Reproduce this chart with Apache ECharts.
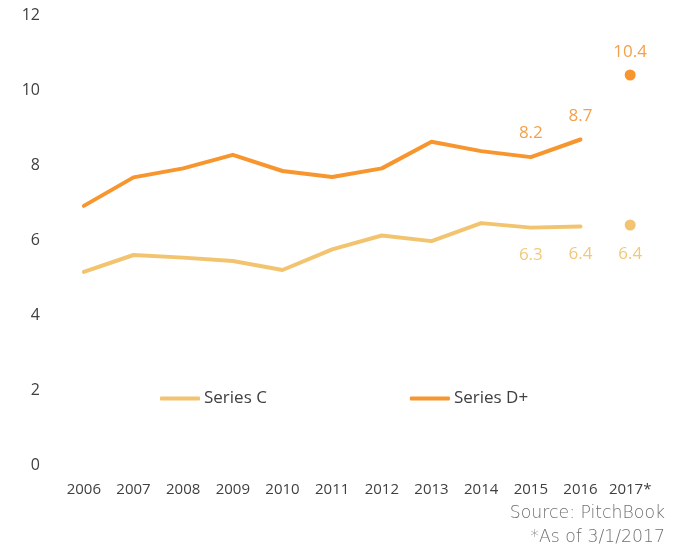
<!DOCTYPE html>
<html><head><meta charset="utf-8">
<script src="https://cdn.jsdelivr.net/npm/echarts@6/dist/echarts.min.js"></script>
<style>html,body{margin:0;padding:0;background:#fff}#c{width:684px;height:544px}</style>
</head><body><div id="c"></div>
<script>
var categories = ['2006','2007','2008','2009','2010','2011','2012','2013','2014','2015','2016','2017*'];
var seriesC = [5.15, 5.6, 5.53, 5.44, 5.2, 5.75, 6.12, 5.97, 6.45, 6.33, 6.36, null];
var seriesD = [6.91, 7.67, 7.91, 8.27, 7.84, 7.68, 7.91, 8.62, 8.37, 8.21, 8.68, null];
var pointC2017 = 6.4;
var pointD2017 = 10.4;
var labeledIdx = [9, 10];

var cColor = '#F2C46F', dColor = '#F7962F';
var cLabel = '#F2C87A', dLabel = '#F5A04A';
var font = 'Open Sans';

function fmt(p) { return p.value.toFixed(1); }
function build(arr, pos, col) {
  return arr.map(function (v, i) {
    if (labeledIdx.indexOf(i) >= 0) {
      return {value: v, label: {show: true, position: pos, distance: pos === 'top' ? 15 : 19, color: col, fontSize: 17, fontFamily: font, formatter: fmt}};
    }
    return v;
  });
}
function pointData(v, pos, col) {
  var d = categories.map(function () { return null; });
  d[categories.length - 1] = {value: v, label: {show: true, position: pos, distance: pos === 'top' ? 9 : 15, color: col, fontSize: 17, fontFamily: font, formatter: fmt}};
  return d;
}

var chart = echarts.init(document.getElementById('c'));
chart.setOption({
  animation: false,
  grid: {left: 59, right: 29, top: 15, bottom: 79},
  legend: {
    data: ['Series C', 'Series D+'], left: 155, top: 385, itemWidth: 40, itemHeight: 4, itemGap: 143,
    icon: 'roundRect',
    textStyle: {color: '#404040', fontSize: 17, fontFamily: font, padding: [0, 0, 0, -1]}
  },
  xAxis: {
    type: 'category', data: categories, boundaryGap: true,
    axisLine: {show: false}, axisTick: {show: false},
    axisLabel: {color: '#404040', fontSize: 15, fontFamily: font, margin: 17, interval: 0}
  },
  yAxis: {
    type: 'value', min: 0, max: 12, interval: 2,
    axisLine: {show: false}, axisTick: {show: false}, splitLine: {show: false},
    axisLabel: {color: '#404040', fontSize: 16, fontFamily: font, margin: 19, padding: [3, 0, 0, 0]}
  },
  series: [
    {name: 'Series C', type: 'line', data: build(seriesC, 'bottom', cLabel), showSymbol: true, symbol: 'circle', symbolSize: 0.1,
      lineStyle: {color: cColor, width: 4, cap: 'round', join: 'round'}, itemStyle: {color: cColor}},
    {name: 'Series D+', type: 'line', data: build(seriesD, 'top', dLabel), showSymbol: true, symbol: 'circle', symbolSize: 0.1,
      lineStyle: {color: dColor, width: 4, cap: 'round', join: 'round'}, itemStyle: {color: dColor}},
    {name: 'C2017', type: 'scatter', data: pointData(pointC2017, 'bottom', cLabel), symbolSize: 11, itemStyle: {color: cColor, opacity: 1}},
    {name: 'D2017', type: 'scatter', data: pointData(pointD2017, 'top', dLabel), symbolSize: 11, itemStyle: {color: dColor, opacity: 1}}
  ],
  graphic: [
    {type: 'text', right: 19, top: 505, style: {text: 'Source: PitchBook', fill: '#707070', fontSize: 17.3, fontFamily: 'DejaVu Sans', fontWeight: 300}},
    {type: 'text', right: 19, top: 529, style: {text: '*As of 3/1/2017', fill: '#707070', fontSize: 17.3, fontFamily: 'DejaVu Sans', fontWeight: 300}}
  ]
});
</script></body></html>
